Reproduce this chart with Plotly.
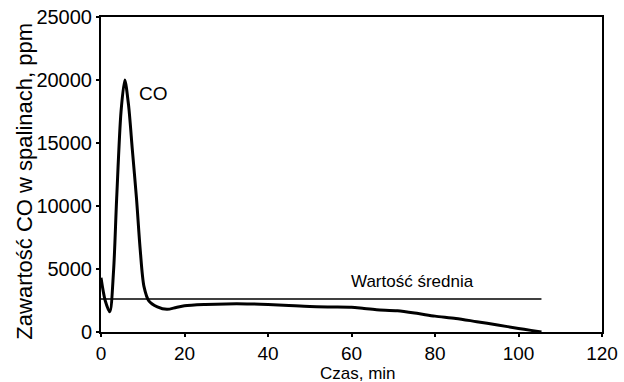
import plotly.graph_objects as go

czas = [0, 1, 2.1, 3, 3.75, 4.8, 5.7, 6.6, 7.5, 8.5, 9.4, 10.3, 11.5, 13.5, 15.8, 18, 20, 25, 30, 35, 40, 45, 50, 55, 60, 63, 66, 71, 76, 80, 85, 90, 95, 100, 103, 105.5]
co = [4300, 2500, 1600, 4800, 10600, 17500, 20000, 18000, 14500, 10600, 6500, 3600, 2450, 2000, 1800, 1950, 2080, 2180, 2230, 2230, 2180, 2100, 2020, 1990, 1970, 1860, 1760, 1680, 1460, 1260, 1080, 820, 560, 280, 130, 0]
srednia_x = [0, 105.5]
srednia_y = [2620, 2620]
x_ticks = [0, 20, 40, 60, 80, 100, 120]
y_ticks = [0, 5000, 10000, 15000, 20000, 25000]

font_fam = "Liberation Sans, Arial, sans-serif"

fig = go.Figure()
fig.add_trace(go.Scatter(x=srednia_x, y=srednia_y, mode="lines",
                         line=dict(color="black", width=1.6), showlegend=False))
fig.add_trace(go.Scatter(x=czas, y=co, mode="lines",
                         line=dict(color="black", width=3, shape="spline", smoothing=0.8),
                         showlegend=False))
fig.add_annotation(x=12.5, y=18900, text="CO", showarrow=False,
                   font=dict(size=19, color="black", family=font_fam))
fig.add_annotation(x=74.5, y=4000, text="Wartość średnia", showarrow=False,
                   font=dict(size=17, color="black", family=font_fam))
# axis titles
fig.add_annotation(xref="paper", yref="paper", x=0.512, y=0, yshift=-41,
                   xanchor="center", yanchor="middle", text="Czas, min", showarrow=False,
                   font=dict(size=17, color="black", family=font_fam))
fig.add_annotation(xref="paper", yref="paper", x=-0.152, y=0.48, textangle=-90,
                   xanchor="center", yanchor="middle", text="Zawartość CO w spalinach, ppm",
                   showarrow=False, font=dict(size=22, color="black", family=font_fam))

axis_common = dict(showline=True, linecolor="black", linewidth=2, mirror=True,
                   ticks="outside", ticklen=3, tickwidth=1.5, tickcolor="black",
                   showgrid=False, zeroline=False, automargin=False)
fig.update_xaxes(range=[0, 120], tickvals=x_ticks, ticktext=[str(v) for v in x_ticks],
                 tickfont=dict(size=19, color="black", family=font_fam),
                 **axis_common)
fig.update_yaxes(range=[0, 25000], tickvals=y_ticks, ticktext=[str(v) for v in y_ticks],
                 tickfont=dict(size=20, color="black", family=font_fam),
                 **axis_common)
fig.update_layout(width=624, height=382, margin=dict(l=101, r=22, t=17, b=50),
                  paper_bgcolor="white", plot_bgcolor="white",
                  font=dict(family=font_fam, color="black"))
fig.write_html("out.html")
